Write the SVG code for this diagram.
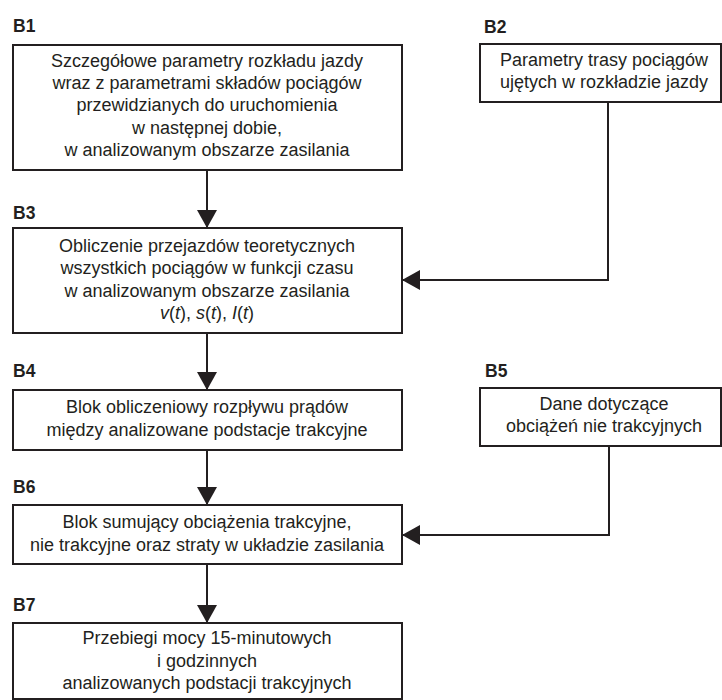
<svg xmlns="http://www.w3.org/2000/svg" width="722" height="700" viewBox="0 0 722 700">
<defs>
<style>
.box{fill:#fff;stroke:#231f20;stroke-width:2}
.lbl{font-family:"Liberation Sans",Arial,sans-serif;font-weight:bold;font-size:17.5px;fill:#231f20}
.t{font-family:"Liberation Sans",Arial,sans-serif;font-size:18px;fill:#231f20;text-anchor:middle}
.c{fill:none;stroke:#231f20;stroke-width:2}
.i{font-style:italic}
</style>
<marker id="ah" viewBox="0 0 18 20" refX="18" refY="10" markerWidth="18" markerHeight="20" markerUnits="userSpaceOnUse" orient="auto">
<path d="M0,0 L18,10 L0,20 Z" fill="#231f20"/>
</marker>
</defs>
<rect width="722" height="700" fill="#fff"/>
<g id="connectors">
<line class="c" x1="207" y1="170" x2="207" y2="228" marker-end="url(#ah)"/>
<line class="c" x1="207" y1="333" x2="207" y2="390" marker-end="url(#ah)"/>
<line class="c" x1="207" y1="450" x2="207" y2="505" marker-end="url(#ah)"/>
<line class="c" x1="207" y1="564" x2="207" y2="623" marker-end="url(#ah)"/>
<polyline class="c" points="608,102 608,280 402,280" marker-end="url(#ah)"/>
<polyline class="c" points="609,446 609,535 402,535" marker-end="url(#ah)"/>
</g>
<g id="B1">
<text class="lbl" x="13" y="32">B1</text>
<rect class="box" x="13" y="45" width="389" height="125"/>
<text class="t" x="207" y="67">Szczegółowe parametry rozkładu jazdy</text>
<text class="t" x="207" y="89">wraz z parametrami składów pociągów</text>
<text class="t" x="207" y="111">przewidzianych do uruchomienia</text>
<text class="t" x="207" y="134">w następnej dobie,</text>
<text class="t" x="207" y="156">w analizowanym obszarze zasilania</text>
</g>
<g id="B2">
<text class="lbl" x="484" y="33">B2</text>
<rect class="box" x="480" y="44" width="241" height="58"/>
<text class="t" x="604" y="66">Parametry trasy pociągów</text>
<text class="t" x="604" y="88">ujętych w rozkładzie jazdy</text>
</g>
<g id="B3">
<text class="lbl" x="13" y="219">B3</text>
<rect class="box" x="13" y="228" width="389" height="105"/>
<text class="t" x="207" y="252">Obliczenie przejazdów teoretycznych</text>
<text class="t" x="207" y="274">wszystkich pociągów w funkcji czasu</text>
<text class="t" x="207" y="297">w analizowanym obszarze zasilania</text>
<text class="t" x="207" y="319"><tspan class="i">v</tspan>(<tspan class="i">t</tspan>), <tspan class="i">s</tspan>(<tspan class="i">t</tspan>), <tspan class="i">I</tspan>(<tspan class="i">t</tspan>)</text>
</g>
<g id="B4">
<text class="lbl" x="13" y="377">B4</text>
<rect class="box" x="13" y="390" width="389" height="60"/>
<text class="t" x="207" y="413">Blok obliczeniowy rozpływu prądów</text>
<text class="t" x="207" y="436">między analizowane podstacje trakcyjne</text>
</g>
<g id="B5">
<text class="lbl" x="485" y="377">B5</text>
<rect class="box" x="480" y="388" width="241" height="58"/>
<text class="t" x="604" y="410">Dane dotyczące</text>
<text class="t" x="604" y="432">obciążeń nie trakcyjnych</text>
</g>
<g id="B6">
<text class="lbl" x="13" y="493">B6</text>
<rect class="box" x="13" y="505" width="389" height="59"/>
<text class="t" x="207" y="528">Blok sumujący obciążenia trakcyjne,</text>
<text class="t" x="207" y="551">nie trakcyjne oraz straty w układzie zasilania</text>
</g>
<g id="B7">
<text class="lbl" x="13" y="611">B7</text>
<rect class="box" x="13" y="623" width="389" height="76"/>
<text class="t" x="207" y="644">Przebiegi mocy 15-minutowych</text>
<text class="t" x="207" y="667">i godzinnych</text>
<text class="t" x="207" y="689">analizowanych podstacji trakcyjnych</text>
</g>
</svg>
